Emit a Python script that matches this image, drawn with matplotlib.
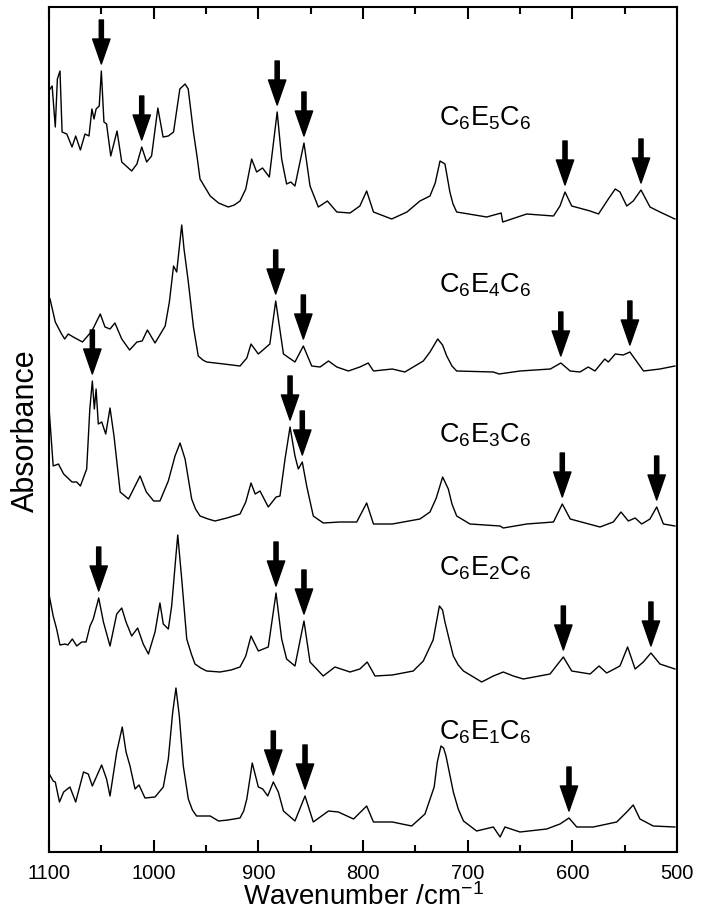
import numpy as np
import matplotlib
matplotlib.use("Agg")
from matplotlib import pyplot as plt

plt.rcParams['font.family'] = ['Liberation Sans', 'DejaVu Sans']
plt.rcParams['mathtext.fontset'] = 'custom'
plt.rcParams['mathtext.rm'] = 'Liberation Sans'
plt.rcParams['mathtext.it'] = 'Liberation Sans:italic'

# traced spectra: wavenumber (cm-1) and absorbance (mA, arbitrary baseline)
w5 = [1099, 1097, 1094, 1092, 1089.5, 1087.5, 1083, 1078, 1074.5, 1070, 1065.6, 1061.8, 1059, 1057,
      1055, 1052, 1050, 1047.5, 1045, 1041, 1035, 1030.5, 1021, 1016, 1011.4, 1006.7, 1002, 996, 991,
      986, 981, 975, 970, 967, 962, 958.5, 955.7, 950, 946, 938, 928.7, 923, 917.5, 912, 906.4, 901.6,
      896, 889.5, 882, 877.7, 873, 869, 865, 856.4, 850.6, 842.7, 834, 825, 812.4, 803, 796.5, 790,
      772.6, 758, 745.6, 736, 731, 726.4, 721.7, 719.5, 717, 714, 710.5, 681.8, 668, 666.5, 643.6, 618,
      611.8, 607, 600.6, 583, 575, 565.6, 559, 554.5, 548, 541.8, 534.4, 525.8, 516.3, 502]
a5 = [130, 133, 92, 140, 148, 87, 85, 72, 83, 69, 85, 83, 110, 100,
      110, 113, 148, 97, 95, 63, 88, 57, 48, 55, 72, 57, 63, 111, 82,
      83, 87, 130, 135, 130, 87, 62, 40, 30, 23, 16, 12, 14, 18, 30, 60, 47,
      51, 42, 107, 60, 35, 37, 33, 76, 33, 12, 18, 7, 6, 13, 28, 7,
      0, 7, 18, 23, 36, 58, 55, 42, 27, 15, 7, 2, 6, -3, 5, 3,
      13, 27, 13, 8, 5, 20, 30, 27, 13, 18, 29, 12, 7, 0]

w4 = [1099, 1094, 1088, 1085, 1081.6, 1076.8, 1068, 1059, 1051, 1046.5, 1041.7, 1037, 1030.5, 1023,
      1016, 1011, 1006, 998.7, 989, 985, 981, 978, 973.2, 971, 967, 962, 957.4, 953, 949.4, 933, 917.5,
      911, 907, 900, 889, 883.4, 876, 865, 857, 849, 841, 833, 825, 814, 803, 795, 790, 772, 760,
      742.4, 736, 728.6, 724, 720, 715, 710.5, 675.5, 670, 650, 621, 611, 602, 592.7, 584.8, 578.4,
      569, 565.6, 559, 551.3, 545, 532, 516.3, 502]
a4 = [73, 50, 38, 33, 38, 35, 30, 41, 58, 45, 43, 49, 33, 22,
      30, 31, 42, 29, 46, 70, 106, 100, 147, 123, 91, 45, 16, 12, 10, 8, 6,
      14, 28, 18, 28, 71, 18, 10, 26, 6, 5, 11, 5, 1, 5, 9, 1, 3, 0,
      11, 20, 33, 27, 16, 6, 1, 0, -2, 1, 3, 9, 1, 0, 5, 1,
      13, 10, 18, 17, 20, 1, 3, 6]

w3 = [1099.7, 1096, 1091, 1086, 1078, 1073.5, 1070, 1064, 1061, 1058.6, 1056.7, 1055, 1052.9, 1049.6,
      1045.8, 1041.7, 1037.9, 1032, 1024, 1013, 1007, 1000, 994, 986, 979.6, 974.8, 970, 963.7, 960,
      955.7, 948, 941.4, 930, 917.5, 912, 907, 903, 898.4, 890.5, 883, 879.3, 874.5, 869.7, 865, 861.8,
      858, 853.8, 847.5, 838, 822, 806, 796.5, 790, 772, 745.6, 736, 730, 723.9, 718.5, 715, 710.5,
      697.8, 669, 666, 643.6, 618, 609.6, 602, 573.6, 560.9, 553.5, 546.5, 540, 533.7, 525.8, 519.4,
      513, 502]
a3 = [114, 60, 62, 52, 44, 44, 40, 57, 117, 145, 117, 137, 102, 104,
      92, 118, 90, 34, 27, 50, 34, 25, 25, 45, 70, 83, 67, 27, 17,
      10, 7, 5, 8, 12, 24, 43, 32, 35, 19, 29, 30, 67, 99, 70, 57,
      64, 40, 10, 3, 4, 4, 23, 2, 2, 7, 14, 28, 49, 37, 22, 10,
      2, 0, -2, 2, 4, 22, 7, -1, 4, 14, 5, 8, 2, 7, 19,
      2, 0]

w2 = [1099.7, 1096, 1092.7, 1089.5, 1084.7, 1082, 1077.7, 1073.5, 1068.8, 1064.6, 1060.8, 1057.7, 1052.5,
      1048, 1041.7, 1035.3, 1030.5, 1026.4, 1021, 1015.3, 1010, 1005, 998.7, 994, 990.8, 986, 982.8,
      979, 977, 973.2, 968.4, 964, 960.5, 955, 949.4, 936.6, 926, 917.5, 912, 907, 900, 890.5, 883.1,
      877.7, 873, 865, 856.4, 850.6, 838, 826.8, 812.4, 803, 796, 788.5, 772, 752, 742.4, 733, 727,
      724, 721.7, 718, 713.7, 709, 704, 686.6, 675.5, 666, 656.4, 646.8, 621.3, 608.6, 600.6, 583,
      574.5, 567.2, 554.5, 547.2, 540, 532.2, 524.9, 516.3, 502]
a2 = [86, 66, 53, 37, 38, 37, 43, 36, 40, 40, 56, 63, 84,
      60, 36, 68, 74, 60, 46, 54, 38, 28, 50, 79, 58, 53, 76,
      123, 147, 103, 43, 28, 18, 14, 11, 10, 12, 15, 26, 46, 31, 35, 89,
      43, 23, 16, 61, 20, 6, 15, 10, 13, 20, 6, 7, 11, 21, 42, 76,
      72, 60, 44, 26, 17, 11, 0, 6, 10, 6, 3, 8, 25, 11, 8,
      16, 9, 16, 35, 13, 20, 29, 18, 13]

w1 = [1099.7, 1096, 1094, 1090, 1086, 1080, 1074.5, 1067, 1062.5, 1058.6, 1049.7, 1045, 1041.7, 1035.3,
      1030, 1026.4, 1022.6, 1017.8, 1014, 1008.3, 998.7, 990.8, 986, 981.8, 978.7, 975.5, 971.7, 966.9,
      963, 959, 946, 938, 929, 917.5, 914, 911, 905.8, 900, 895.8, 891, 885.7, 880.9, 876, 865, 855.4,
      847.5, 833, 823.6, 809, 796.5, 790, 772, 753.5, 740.8, 732, 729, 725.5, 723, 720.7, 717, 713.7,
      709, 704, 691.4, 675.5, 669, 664.4, 650, 624.5, 611.8, 603.2, 595.8, 580, 557.6, 548, 541.8,
      535.4, 522.7, 502]
a1 = [63, 56, 55, 35, 45, 50, 35, 65, 63, 51, 72, 58, 41, 85,
      110, 85, 71, 48, 52, 39, 40, 50, 78, 125, 149, 121, 71, 38,
      27, 21, 21, 16, 17, 19, 26, 38, 74, 50, 48, 41, 55, 45, 26, 16, 41,
      15, 26, 25, 18, 31, 15, 15, 11, 23, 50, 75, 91, 89, 81, 62, 45,
      28, 16, 6, 10, 0, 10, 5, 8, 13, 19, 10, 10, 15, 25, 32,
      18, 11, 10]

names = ['$\\mathrm{C_6E_5C_6}$', '$\\mathrm{C_6E_4C_6}$', '$\\mathrm{C_6E_3C_6}$',
         '$\\mathrm{C_6E_2C_6}$', '$\\mathrm{C_6E_1C_6}$']
spectra = [(w5, a5), (w4, a4), (w3, a3), (w2, a2), (w1, a1)]
offsets = [633, 480, 326, 170, 15]
label_y = [735, 568, 418, 285, 121]

# marked bands for each spectrum
arrows = [
    [1050, 1011.4, 882, 856.4, 607, 534.4],
    [883.4, 857, 611, 545],
    [1058.6, 869.7, 858, 609.6, 519.4],
    [1052.5, 883.1, 856.4, 608.6, 524.9],
    [885.7, 855.4, 603.2],
]

fig = plt.figure(figsize=(7.06, 9.12), dpi=100)
ax = fig.add_axes([49 / 706, 59 / 912, 628 / 706, 845 / 912])

for (w, a), off, lab, ly, arr in zip(spectra, offsets, names, label_y, arrows):
    y = np.array(a, dtype=float) + off
    ax.plot(w, y, color='black', lw=1.0)
    ax.text(727, ly, lab, fontsize=19.5, ha='left', va='center')
    wr = np.array(w)[::-1]
    yr = y[::-1]
    for wa in arr:
        tip = np.interp(wa, wr, yr) + 7
        ax.annotate('', xy=(wa, tip), xytext=(wa, tip + 44),
                    arrowprops=dict(width=3, headwidth=12.5, headlength=18,
                                    facecolor='black', edgecolor='black', shrink=0))

ax.set_xlim(1100, 500)
ax.set_ylim(0, 845)
ax.set_xticks(np.arange(1100, 499, -100))
ax.set_xticks(np.arange(1050, 500, -100), minor=True)
ax.set_yticks([])
ax.tick_params(axis='x', which='both', direction='in', top=True, bottom=True,
               labelsize=14.5, pad=8, width=1.5)
ax.tick_params(axis='x', which='major', length=8.5)
ax.tick_params(axis='x', which='minor', length=5)
for s in ax.spines.values():
    s.set_linewidth(1.5)
ax.set_xlabel('Wavenumber /cm$^{\\mathrm{-1}}$', fontsize=20, labelpad=0)
ax.set_ylabel('Absorbance', fontsize=22, labelpad=6)

fig.savefig('out.png', dpi=100)
